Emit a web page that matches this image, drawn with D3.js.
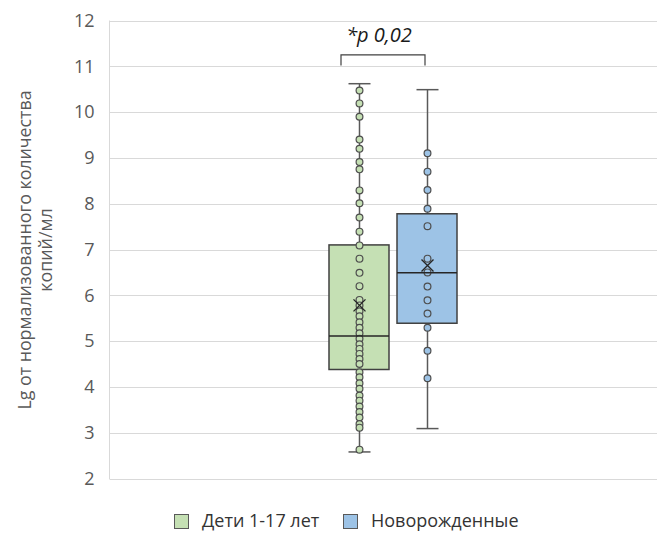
<!DOCTYPE html>
<html>
<head>
<meta charset="utf-8">
<script src="https://cdn.jsdelivr.net/npm/d3@7"></script>
<style>
  html, body { margin: 0; padding: 0; background: #ffffff; }
  svg { display: block; }
</style>
</head>
<body>
<svg id="chart" width="669" height="539"></svg>
<script>
// ---- DATA ----
const seriesNames = ["Дети 1-17 лет", "Новорожденные"];
const seriesColors = ["#c5e0b4", "#9dc3e6"];
const yTicks = [2, 3, 4, 5, 6, 7, 8, 9, 10, 11, 12];

// individual observations (lg of normalized copies/ml)
const childrenPoints = [10.47, 10.19, 9.90, 9.40, 9.20, 8.91, 8.75, 8.29, 8.01, 7.70,
  7.39, 7.09, 6.80, 6.49, 6.20, 5.90, 5.78, 5.65, 5.54, 5.41, 5.29, 5.17, 5.05,
  4.93, 4.83, 4.72, 4.61, 4.50, 4.32, 4.21, 4.08, 3.96, 3.81, 3.70, 3.57, 3.45,
  3.33, 3.19, 3.11, 2.63];
const newbornPoints = [9.10, 8.70, 8.30, 7.89, 7.51, 6.80, 6.50, 6.19, 5.89, 5.60, 5.29, 4.79, 4.19];

// box statistics: [min, q1, median, q3, max]
const childrenStats = [2.58, 4.38, 5.11, 7.10, 10.62];
const newbornStats = [3.09, 5.39, 6.49, 7.78, 10.49];
const means = [5.78, 6.65];

const pLabel = "*p 0,02";
const bracketLevel = [11.02, 11.25];   // leg bottom, bracket top
const yTitleLines = ["Lg от нормализованного количества", "копий/мл"];

// ---- LAYOUT ----
const svg = d3.select("#chart");
const font = "'Open Sans', 'Liberation Sans', sans-serif";
const plotLeft = 109.5, plotRight = 657, plotTop = 20.5, plotBottom = 478.5;

const y = d3.scaleLinear().domain([2, 12]).range([plotBottom, plotTop]);
const x = d3.scaleBand().domain(seriesNames).range([329, 457]).paddingInner(8 / 68).paddingOuter(0);

// gridlines
svg.append("g").selectAll("line").data(yTicks).join("line")
  .attr("x1", plotLeft).attr("x2", plotRight)
  .attr("y1", d => Math.round(y(d)) + 0.5).attr("y2", d => Math.round(y(d)) + 0.5)
  .attr("stroke", "#d9d9d9").attr("stroke-width", 1);

// left axis line
svg.append("line").attr("x1", plotLeft).attr("x2", plotLeft)
  .attr("y1", plotTop).attr("y2", plotBottom + 0.5)
  .attr("stroke", "#d9d9d9").attr("stroke-width", 1);

// y axis with d3
const yAxis = d3.axisLeft(y).tickValues(yTicks).tickSize(0).tickPadding(15).tickFormat(d3.format("d"));
const ag = svg.append("g").attr("transform", `translate(${plotLeft},0)`).call(yAxis);
ag.select(".domain").remove();
ag.selectAll("text").attr("font-family", font).attr("font-size", 18).attr("fill", "#595959");

// y axis title
const tg = svg.append("g").attr("transform", `translate(26,250) rotate(-90)`);
yTitleLines.forEach((t, i) => {
  tg.append("text").attr("x", 0).attr("y", i * 21).attr("text-anchor", "middle")
    .attr("dominant-baseline", "middle")
    .attr("font-family", font).attr("font-size", 17.8).attr("fill", "#595959").text(t);
});

// boxes
const groups = [
  { name: seriesNames[0], stats: childrenStats, pts: childrenPoints, mean: means[0], color: seriesColors[0] },
  { name: seriesNames[1], stats: newbornStats, pts: newbornPoints, mean: means[1], color: seriesColors[1] }
];
const stroke = "#404040";
const capW = 22;

groups.forEach(g => {
  const x0 = x(g.name), bw = x.bandwidth(), cx = Math.round(x0 + bw / 2) + 0.5;
  const [mn, q1, md, q3, mx] = g.stats;
  const gg = svg.append("g");
  // whiskers
  gg.append("line").attr("x1", cx).attr("x2", cx).attr("y1", y(mx)).attr("y2", y(q3))
    .attr("stroke", "#595959").attr("stroke-width", 1.5);
  gg.append("line").attr("x1", cx).attr("x2", cx).attr("y1", y(q1)).attr("y2", y(mn))
    .attr("stroke", "#595959").attr("stroke-width", 1.5);
  [mn, mx].forEach(v => {
    gg.append("line").attr("x1", cx - capW / 2).attr("x2", cx + capW / 2)
      .attr("y1", y(v)).attr("y2", y(v)).attr("stroke", "#595959").attr("stroke-width", 1.5);
  });
  // box
  gg.append("rect").attr("x", x0).attr("width", bw)
    .attr("y", y(q3)).attr("height", y(q1) - y(q3))
    .attr("fill", g.color).attr("stroke", stroke).attr("stroke-width", 1.5);
  // points
  gg.selectAll("circle").data(g.pts).join("circle")
    .attr("cx", cx).attr("cy", d => y(d)).attr("r", 3.4)
    .attr("fill", g.color).attr("stroke", "#4d4d4d").attr("stroke-width", 1.2);
  // median
  gg.append("line").attr("x1", x0).attr("x2", x0 + bw).attr("y1", y(md)).attr("y2", y(md))
    .attr("stroke", "#262626").attr("stroke-width", 1.5);
  // mean X
  const my = y(g.mean), s = 6;
  gg.append("path").attr("d", `M${cx - s},${my - s}L${cx + s},${my + s}M${cx - s},${my + s}L${cx + s},${my - s}`)
    .attr("stroke", "#262626").attr("stroke-width", 1.4).attr("fill", "none");
});

// significance bracket
const bx1 = x(seriesNames[0]) + 12, bx2 = x(seriesNames[1]) + x.bandwidth() / 2 - 2;
svg.append("path")
  .attr("d", `M${bx1},${y(bracketLevel[0])}V${y(bracketLevel[1])}H${bx2}V${y(bracketLevel[0])}`)
  .attr("fill", "none").attr("stroke", "#404040").attr("stroke-width", 1.2);
svg.append("text").attr("x", (bx1 + bx2) / 2 - 4).attr("y", 42)
  .attr("text-anchor", "middle").attr("font-family", font).attr("font-style", "italic")
  .attr("font-size", 20).attr("fill", "#1a1a1a").text(pLabel);

// legend
const legend = svg.append("g");
const legendX = [174, 343];
seriesNames.forEach((n, i) => {
  legend.append("rect").attr("x", legendX[i] + 0.5).attr("y", 514.5).attr("width", 14).attr("height", 14)
    .attr("fill", seriesColors[i]).attr("stroke", "#595959").attr("stroke-width", 1);
  legend.append("text").attr("x", legendX[i] + 28).attr("y", 522).attr("dominant-baseline", "middle")
    .attr("font-family", font).attr("font-size", 18).attr("fill", "#333333").text(n);
});
</script>
</body>
</html>
